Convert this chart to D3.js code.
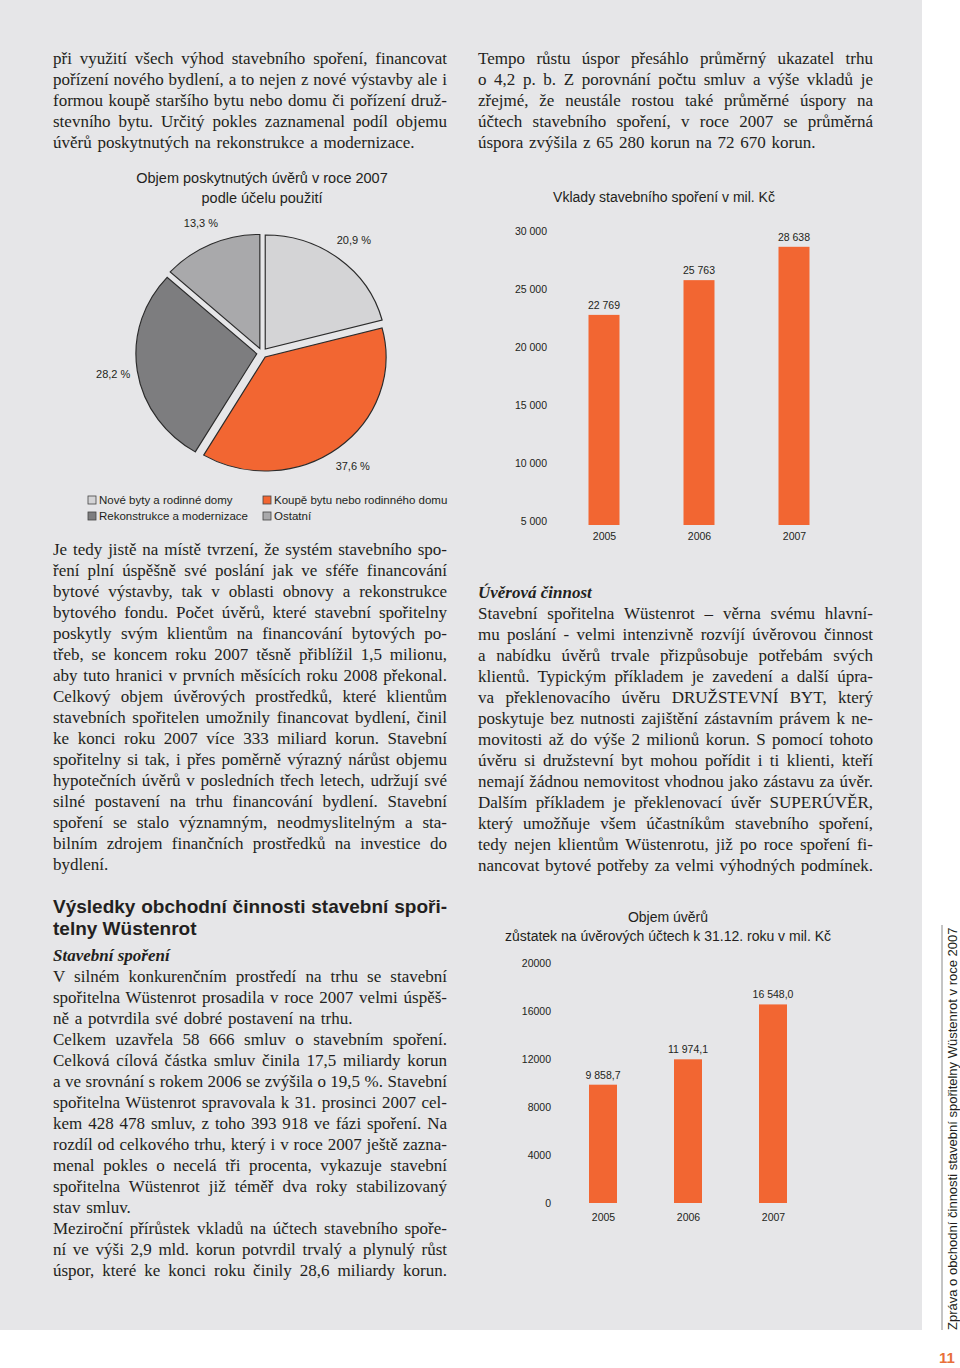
<!DOCTYPE html>
<html lang="cs">
<head>
<meta charset="utf-8" />
<title>Zpráva o obchodní činnosti 2007 – str. 11</title>
<style>
  body { margin: 0; background: #fff; }
  .page { position: relative; width: 960px; height: 1368px; overflow: hidden; }
  .panel { position: absolute; left: 0; top: 0; width: 922px; height: 1330px; background: #e6e6e8; }
  .ln {
    position: absolute;
    white-space: nowrap;
    font-family: 'Liberation Serif', 'Times New Roman', serif;
    font-size: 17px;
    line-height: 21px;
    color: #231f20;
    word-spacing: 1.5px;
  }
  .ln.head { font-family: 'Liberation Sans', Arial, sans-serif; font-weight: bold; font-size: 19px; line-height: 22px; word-spacing: 0; }
  .ln.sub { font-style: italic; font-weight: bold; word-spacing: 0; }
  svg { position: absolute; left: 0; top: 0; }
  svg text { font-family: 'Liberation Sans', Arial, sans-serif; fill: #231f20; }
</style>
</head>
<body>
<div class="page">
  <div class="panel"></div>
  <div id="text"></div>
  <div id="chart"></div>
</div>
<script src="https://cdn.jsdelivr.net/npm/d3@7"></script>
<script>
  // pie: loans 2007 by purpose (clockwise from 12 o'clock)
  const pieCategories = ['Nové byty a rodinné domy', 'Koupě bytu nebo rodinného domu', 'Rekonstrukce a modernizace', 'Ostatní'];
  const pieShares = [20.9, 37.6, 28.2, 13.3];
  const pieColors = ['#d4d4d6', '#f26632', '#7d7d7f', '#a9a9ab'];

  // deposits
  const depositYears = ['2005', '2006', '2007'];
  const depositValues = [22769, 25763, 28638];
  const depositTicks = [5000, 10000, 15000, 20000, 25000, 30000];

  // loan balances
  const loanYears = ['2005', '2006', '2007'];
  const loanValues = [9858.7, 11974.1, 16548.0];
  const loanTicks = [0, 4000, 8000, 12000, 16000, 20000];

  const orange = '#f26632';
  const cz = d3.formatLocale({ decimal: ',', thousands: ' ', grouping: [3], currency: ['', ' Kč'] });

  // ---- text blocks: J = justified line, L = left (last line of paragraph)
  const J = (t) => ({ t, j: true });
  const L = (t) => ({ t, j: false });
  const blocks = [
    { x: 53, y: 58, w: 394, lines: [
      J('při využití všech výhod stavebního spoření, financovat'),
      J('pořízení nového bydlení, a to nejen z nové výstavby ale i'),
      J('formou koupě staršího bytu nebo domu či pořízení druž-'),
      J('stevního bytu. Určitý pokles zaznamenal podíl objemu'),
      L('úvěrů poskytnutých na rekonstrukce a modernizace.'),
    ] },
    { x: 478, y: 58, w: 395, lines: [
      J('Tempo růstu úspor přesáhlo průměrný ukazatel trhu'),
      J('o 4,2 p. b. Z porovnání počtu smluv a výše vkladů je'),
      J('zřejmé, že neustále rostou také průměrné úspory na'),
      J('účtech stavebního spoření, v roce 2007 se průměrná'),
      L('úspora zvýšila z 65 280 korun na 72 670 korun.'),
    ] },
    { x: 53, y: 549, w: 394, lines: [
      J('Je tedy jistě na místě tvrzení, že systém stavebního spo-'),
      J('ření plní úspěšně své poslání jak ve sféře financování'),
      J('bytové výstavby, tak v oblasti obnovy a rekonstrukce'),
      J('bytového fondu. Počet úvěrů, které stavební spořitelny'),
      J('poskytly svým klientům na financování bytových po-'),
      J('třeb, se koncem roku 2007 těsně přiblížil 1,5 milionu,'),
      J('aby tuto hranici v prvních měsících roku 2008 překonal.'),
      J('Celkový objem úvěrových prostředků, které klientům'),
      J('stavebních spořitelen umožnily financovat bydlení, činil'),
      J('ke konci roku 2007 více 333 miliard korun. Stavební'),
      J('spořitelny si tak, i přes poměrně výrazný nárůst objemu'),
      J('hypotečních úvěrů v posledních třech letech, udržují své'),
      J('silné postavení na trhu financování bydlení. Stavební'),
      J('spoření se stalo významným, neodmyslitelným a sta-'),
      J('bilním zdrojem finančních prostředků na investice do'),
      L('bydlení.'),
    ] },
    { x: 53, y: 907, w: 394, cls: 'head', step: 22, lines: [
      J('Výsledky obchodní činnosti stavební spoři-'),
      L('telny Wüstenrot'),
    ] },
    { x: 53, y: 955, w: 394, lines: [
      { t: 'Stavební spoření', j: false, cls: 'sub' },
      J('V silném konkurenčním prostředí na trhu se stavební'),
      J('spořitelna Wüstenrot prosadila v roce 2007 velmi úspěš-'),
      L('ně a potvrdila své dobré postavení na trhu.'),
      J('Celkem uzavřela 58 666 smluv o stavebním spoření.'),
      J('Celková cílová částka smluv činila 17,5 miliardy korun'),
      J('a ve srovnání s rokem 2006 se zvýšila o 19,5 %. Stavební'),
      J('spořitelna Wüstenrot spravovala k 31. prosinci 2007 cel-'),
      J('kem 428 478 smluv, z toho 393 918 ve fázi spoření. Na'),
      J('rozdíl od celkového trhu, který i v roce 2007 ještě zazna-'),
      J('menal pokles o necelá tři procenta, vykazuje stavební'),
      J('spořitelna Wüstenrot již téměř dva roky stabilizovaný'),
      L('stav smluv.'),
      J('Meziroční přírůstek vkladů na účtech stavebního spoře-'),
      J('ní ve výši 2,9 mld. korun potvrdil trvalý a plynulý růst'),
      J('úspor, které ke konci roku činily 28,6 miliardy korun.'),
    ] },
    { x: 478, y: 592, w: 395, lines: [
      { t: 'Úvěrová činnost', j: false, cls: 'sub' },
      J('Stavební spořitelna Wüstenrot – věrna svému hlavní-'),
      J('mu poslání - velmi intenzivně rozvíjí úvěrovou činnost'),
      J('a nabídku úvěrů trvale přizpůsobuje potřebám svých'),
      J('klientů. Typickým příkladem je zavedení a další úpra-'),
      J('va překlenovacího úvěru DRUŽSTEVNÍ BYT, který'),
      J('poskytuje bez nutnosti zajištění zástavním právem k ne-'),
      J('movitosti až do výše 2 milionů korun. S pomocí tohoto'),
      J('úvěru si družstevní byt mohou pořídit i ti klienti, kteří'),
      J('nemají žádnou nemovitost vhodnou jako zástavu za úvěr.'),
      J('Dalším příkladem je překlenovací úvěr SUPERÚVĚR,'),
      J('který umožňuje všem účastníkům stavebního spoření,'),
      J('tedy nejen klientům Wüstenrotu, již po roce spoření fi-'),
      J('nancovat bytové potřeby za velmi výhodných podmínek.'),
    ] },
  ];

  const textRoot = d3.select('#text');
  blocks.forEach((b) => {
    const step = b.step || 21;
    const lh = b.cls === 'head' ? 22 : 21;
    b.lines.forEach((l, i) => {
      const div = textRoot.append('div')
        .attr('class', 'ln ' + (b.cls || '') + ' ' + (l.cls || ''))
        .style('left', b.x + 'px')
        .style('top', (b.y + i * step - lh / 2) + 'px');
      const span = div.append('span').text(l.t);
      if (l.j) {
        // stretch (or squeeze) word gaps so the line fills the column
        span.style('word-spacing', '0px');
        const natural = span.node().getBoundingClientRect().width;
        const spaces = (l.t.match(/ /g) || []).length;
        if (spaces > 0) span.style('word-spacing', ((b.w - natural) / spaces) + 'px');
      }
    });
  });

  // ---- charts
  const svg = d3.select('#chart').append('svg').attr('width', 960).attr('height', 1368);

  // pie
  const pcx = 262, pcy = 353, pr = 114, explode = 5;
  const pieTitle = svg.append('text').attr('text-anchor', 'middle').style('font-size', '14.5px');
  pieTitle.append('tspan').attr('x', pcx).attr('y', 183).text('Objem poskytnutých úvěrů v roce 2007');
  pieTitle.append('tspan').attr('x', pcx).attr('y', 203).text('podle účelu použití');

  const arcs = d3.pie().sort(null).value((d) => d)(pieShares);
  const arc = d3.arc().innerRadius(0).outerRadius(pr);
  const pg = svg.append('g').attr('transform', `translate(${pcx},${pcy}) scale(1.06,1)`);
  pg.selectAll('path')
    .data(arcs)
    .join('path')
    .attr('d', arc)
    .attr('transform', (d) => {
      const a = (d.startAngle + d.endAngle) / 2;
      return `translate(${Math.sin(a) * explode},${-Math.cos(a) * explode})`;
    })
    .attr('fill', (d, i) => pieColors[i])
    .attr('stroke', '#2b2b2b')
    .attr('stroke-width', 1.1);

  const labelR = 142;
  svg.append('g').selectAll('text')
    .data(arcs)
    .join('text')
    .attr('x', (d) => pcx + Math.sin((d.startAngle + d.endAngle) / 2) * labelR * 1.06)
    .attr('y', (d) => pcy - Math.cos((d.startAngle + d.endAngle) / 2) * labelR)
    .attr('dy', '0.35em')
    .attr('text-anchor', 'middle')
    .style('font-size', '11px')
    .text((d) => cz.format('.1f')(d.data) + ' %');

  // legend
  const legend = svg.append('g').style('font-size', '11.5px');
  const legendPos = [[88, 500], [263, 500], [88, 516], [263, 516]];
  pieCategories.forEach((c, i) => {
    const [lx, ly] = legendPos[i];
    legend.append('rect').attr('x', lx).attr('y', ly - 4).attr('width', 8).attr('height', 8)
      .attr('fill', pieColors[i]).attr('stroke', '#444').attr('stroke-width', 0.8);
    legend.append('text').attr('x', lx + 11).attr('y', ly).attr('dy', '0.35em').text(c);
  });

  function barChart(opt) {
    const g = svg.append('g');
    const title = g.append('text').attr('text-anchor', 'middle').style('font-size', '14px');
    opt.title.forEach((t, i) => title.append('tspan').attr('x', opt.cx).attr('y', opt.titleY + i * 19).text(t));

    const x = d3.scalePoint().domain(opt.years).range(opt.xRange);
    const y = d3.scaleLinear().domain(opt.domain).range(opt.yRange);

    const yAxis = g.append('g')
      .attr('transform', `translate(${opt.axisX},0)`)
      .call(d3.axisLeft(y).tickValues(opt.ticks).tickSize(0).tickPadding(0).tickFormat(opt.tickFormat));
    yAxis.select('.domain').remove();
    yAxis.selectAll('text').style('font-size', '10.5px').style('font-family', "'Liberation Sans', Arial, sans-serif").attr('fill', '#231f20');

    const xAxis = g.append('g')
      .attr('transform', `translate(0,${opt.yearY})`)
      .call(d3.axisBottom(x).tickSize(0).tickPadding(0));
    xAxis.select('.domain').remove();
    xAxis.selectAll('text').style('font-size', '10.5px').style('font-family', "'Liberation Sans', Arial, sans-serif").attr('fill', '#231f20');

    const data = opt.years.map((yr, i) => ({ yr, v: opt.values[i] }));
    g.selectAll('rect.bar')
      .data(data)
      .join('rect')
      .attr('class', 'bar')
      .attr('x', (d) => x(d.yr) - opt.barW / 2)
      .attr('width', opt.barW)
      .attr('y', (d) => y(d.v))
      .attr('height', (d) => y(opt.domain[0]) + opt.baseExtra - y(d.v))
      .attr('fill', orange);

    g.selectAll('text.val')
      .data(data)
      .join('text')
      .attr('class', 'val')
      .attr('x', (d) => x(d.yr))
      .attr('y', (d) => y(d.v) - 6)
      .attr('text-anchor', 'middle')
      .style('font-size', '10.5px')
      .text((d) => opt.valueFormat(d.v));
  }

  barChart({
    title: ['Vklady stavebního spoření v mil. Kč'],
    cx: 664, titleY: 202,
    years: depositYears, values: depositValues, ticks: depositTicks,
    domain: [5000, 30000], yRange: [521, 231],
    xRange: [604, 794], barW: 31, baseExtra: 4,
    axisX: 547, yearY: 533,
    tickFormat: cz.format(',d'), valueFormat: cz.format(',d'),
  });

  barChart({
    title: ['Objem úvěrů', 'zůstatek na úvěrových účtech k 31.12. roku v mil. Kč'],
    cx: 668, titleY: 922,
    years: loanYears, values: loanValues, ticks: loanTicks,
    domain: [0, 20000], yRange: [1203, 963],
    xRange: [603, 773], barW: 28, baseExtra: 0,
    axisX: 551, yearY: 1214,
    tickFormat: d3.format('d'), valueFormat: cz.format(',.1f'),
  });

  // side strip + page number
  svg.append('line').attr('x1', 942).attr('x2', 942).attr('y1', 925).attr('y2', 1330)
    .attr('stroke', '#8a8a8a').attr('stroke-width', 1);
  svg.append('text')
    .attr('transform', 'translate(957,1330) rotate(-90)')
    .style('font-size', '13px')
    .attr('fill', '#333')
    .text('Zpráva o obchodní činnosti stavební spořitelny Wüstenrot v roce 2007');
  svg.append('text')
    .attr('x', 947).attr('y', 1358).attr('dy', '0.35em')
    .attr('text-anchor', 'middle')
    .style('font-size', '15px').style('font-weight', 'bold')
    .style('fill', '#e8703a')
    .text('11');
</script>
</body>
</html>
